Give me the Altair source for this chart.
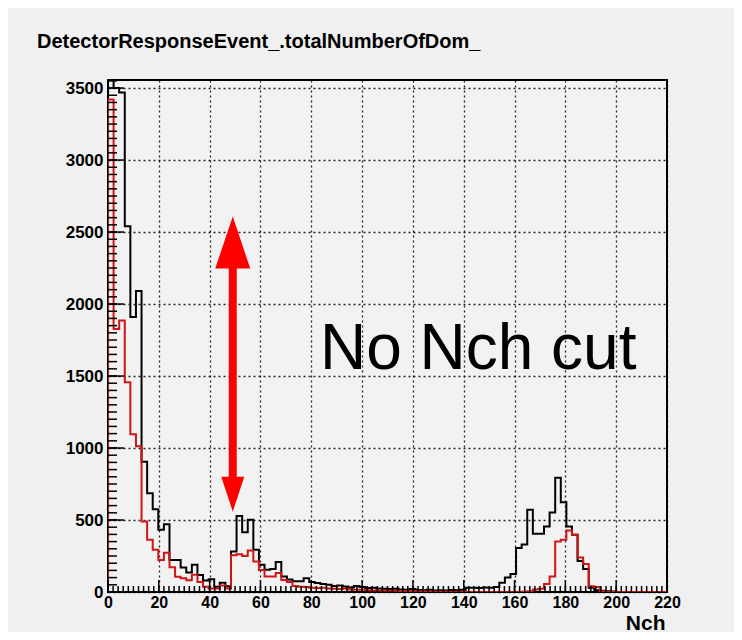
import altair as alt
import pandas as pd

TITLE = "DetectorResponseEvent_.totalNumberOfDom_"
X_TITLE = "Nch"
ANNOTATION = "No Nch cut"

X_MIN, X_MAX = 0, 220
Y_MAX = 3556
BIN_WIDTH = 2.2

# bin contents (100 bins of width 2.2 from 0 to 220)
BLACK = [3560, 3500, 3470, 2540, 1910, 2090, 905, 685, 575, 432,
         470, 223, 223, 170, 135, 190, 118, 80, 88, 37,
         65, 40, 281, 528, 415, 502, 293, 190, 155, 160,
         208, 108, 86, 75, 74, 95, 70, 62, 55, 50,
         42, 45, 38, 32, 42, 35, 28, 30, 25, 22,
         20, 22, 18, 15, 20, 14, 12, 15, 10, 12,
         10, 14, 12, 15, 30, 30, 28, 32, 30, 35,
         65, 100, 125, 305, 330, 572, 405, 405, 455, 553,
         793, 623, 455, 397, 215, 160, 30, 12, 8, 5,
         3, 0, 0, 0, 0, 0, 0, 0, 0, 0]
RED = [3420, 1827, 1885, 1457, 1095, 1013, 490, 363, 293, 223,
       272, 172, 106, 96, 82, 120, 70, 37, 25, 25,
       45, 25, 255, 262, 250, 288, 211, 153, 107, 107,
       132, 84, 70, 42, 37, 35, 30, 28, 30, 25,
       22, 20, 25, 18, 15, 15, 12, 10, 10, 8,
       10, 8, 6, 5, 5, 4, 3, 3, 2, 2,
       2, 1, 1, 1, 0, 0, 0, 0, 0, 0,
       0, 0, 0, 0, 2, 5, 18, 22, 56, 107,
       351, 363, 428, 397, 240, 195, 40, 35, 5, 0,
       0, 0, 0, 0, 0, 0, 0, 0, 0, 0]

X_TICKS = list(range(0, 221, 20))
Y_TICKS = list(range(0, 3501, 500))
X_MINOR = [v / 10 for v in range(0, 2201, 20)]
Y_MINOR = list(range(0, 3551, 50))

# annotation (data coordinates)
ARROW_X = [49.1]
ARROW_TIP_TOP = [2608]
ARROW_TIP_BOTTOM = [558]
SHAFT_TOP = [2260]
SHAFT_BOTTOM = [795]
TEXT_X = [83.4]
TEXT_Y = [1549]

W, H = 559, 512
FONT = "Liberation Sans"


def hist_points(counts):
    rows = [{"x": 0.0, "y": 0, "i": 0}]
    for k, c in enumerate(counts):
        rows.append({"x": round(k * BIN_WIDTH, 4), "y": c, "i": k + 1})
    rows.append({"x": float(X_MAX), "y": 0, "i": len(counts) + 1})
    return pd.DataFrame(rows)


xs = alt.Scale(domain=[X_MIN, X_MAX], nice=False, zero=False)
ys = alt.Scale(domain=[0, Y_MAX], nice=False)

x_axis = alt.Axis(values=X_TICKS, format="d", title=X_TITLE, tickSize=0, domain=False,
                  grid=True, gridDash=[2, 3], gridColor="#000000", gridOpacity=0.85,
                  gridWidth=1.3, labelFont=FONT, labelFontWeight="bold", labelFontSize=16,
                  labelColor="#000000", labelPadding=2, labelFlush=False, labelOverlap=False,
                  titleFont=FONT, titleFontWeight="bold", titleFontSize=21, titleColor="#000000",
                  titleAnchor="end", titleAlign="right", titleBaseline="alphabetic",
                  titleX=557, titleY=37)
y_axis = alt.Axis(values=Y_TICKS, format="d", title=None, tickSize=0, domain=False,
                  grid=True, gridDash=[2, 3], gridColor="#000000", gridOpacity=0.85,
                  gridWidth=1.3, labelFont=FONT, labelFontWeight="bold", labelFontSize=17,
                  labelColor="#000000", labelPadding=5, labelFlush=False, labelOverlap=False)


def X(field):
    return alt.X(field, type="quantitative", scale=xs, axis=x_axis, title=X_TITLE)


def Y(field):
    return alt.Y(field, type="quantitative", scale=ys, axis=y_axis, title=None)


black_df = hist_points(BLACK)
red_df = hist_points(RED)

black_line = alt.Chart(black_df).mark_line(
    interpolate="step-after", color="#000000", strokeWidth=2, clip=True
).encode(x=X("x"), y=Y("y"), order="i:Q")

red_line = alt.Chart(red_df).mark_line(
    interpolate="step-after", color="#d01515", strokeWidth=2, clip=True
).encode(x=X("x"), y=Y("y"), order="i:Q")

# inward ticks (ROOT style)
xmaj = alt.Chart(pd.DataFrame({"x": X_TICKS})).mark_rule(color="#000000", strokeWidth=1.5).encode(
    x=X("x"), y=alt.value(H), y2=alt.value(H - 12))
xmin = alt.Chart(pd.DataFrame({"x": X_MINOR})).mark_rule(color="#000000", strokeWidth=1.5).encode(
    x=X("x"), y=alt.value(H), y2=alt.value(H - 6))
ymaj = alt.Chart(pd.DataFrame({"y": Y_TICKS})).mark_rule(color="#000000", strokeWidth=1.5).encode(
    y=Y("y"), x=alt.value(0), x2=alt.value(16))
ymin = alt.Chart(pd.DataFrame({"y": Y_MINOR})).mark_rule(color="#000000", strokeWidth=1.5).encode(
    y=Y("y"), x=alt.value(0), x2=alt.value(9))

# arrow
arrow_df = pd.DataFrame({"x": ARROW_X, "top": ARROW_TIP_TOP, "bottom": ARROW_TIP_BOTTOM,
                         "s_top": SHAFT_TOP, "s_bottom": SHAFT_BOTTOM})
shaft = alt.Chart(arrow_df).mark_rule(color="#ff0000", strokeWidth=8, strokeCap="butt").encode(
    x=X("x"), y=Y("s_top"), y2="s_bottom:Q")
head_top = alt.Chart(arrow_df).mark_point(
    shape="M0,0L0.673,2L-0.673,2Z", size=2704, filled=True, color="#ff0000", opacity=1, strokeWidth=0
).encode(x=X("x"), y=Y("top"))
head_bottom = alt.Chart(arrow_df).mark_point(
    shape="M0,0L0.442,-1.346L-0.442,-1.346Z", size=2704, filled=True, color="#ff0000", opacity=1, strokeWidth=0
).encode(x=X("x"), y=Y("bottom"))

label = alt.Chart(pd.DataFrame({"x": TEXT_X, "y": TEXT_Y, "t": [ANNOTATION]})).mark_text(
    align="left", baseline="alphabetic", font=FONT, fontSize=64, color="#000000"
).encode(x=X("x"), y=Y("y"), text="t:N")

title = alt.Chart(pd.DataFrame({"t": [TITLE]})).mark_text(
    align="left", baseline="middle", font=FONT, fontSize=20, fontWeight="bold", color="#000000"
).encode(x=alt.value(-71), y=alt.value(-38), text="t:N")

chart = alt.layer(
    black_line, red_line, xmaj, xmin, ymaj, ymin, shaft, head_top, head_bottom, label, title
).properties(
    width=W, height=H,
    padding={"left": 100, "top": 72, "right": 67, "bottom": 40},
    autosize=alt.AutoSizeParams(type="none"),
    background="#f0f0f0",
).configure_view(stroke="#000000", strokeWidth=2, fill="#f2f2f2")

chart.save("out.html", embed_options={"renderer": "svg", "actions": False})
